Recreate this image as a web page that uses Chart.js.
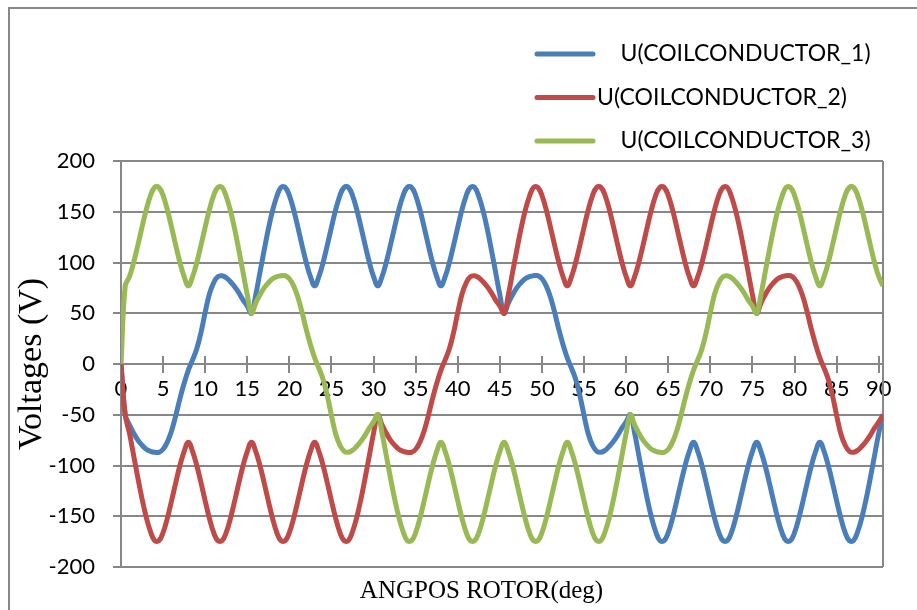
<!DOCTYPE html>
<html>
<head>
<meta charset="utf-8">
<title>Coil conductor voltages</title>
<script src="https://cdn.jsdelivr.net/npm/chart.js@4.4.1/dist/chart.umd.min.js"></script>
<style>
  html, body { margin: 0; padding: 0; background: #ffffff; }
  #wrap { position: relative; width: 917px; height: 610px; overflow: hidden; }
  #frame { position: absolute; left: 8px; top: 7px; width: 1000px; height: 700px;
           border-left: 2px solid #878787; border-top: 2px solid #878787; }
  #chart { position: absolute; left: 0; top: 0; }
</style>
</head>
<body>
<div id="wrap">
  <div id="frame"></div>
  <canvas id="chart" width="917" height="610"></canvas>
</div>
<script>
// Rotor angle (deg) of each sample
const angleDeg = [
  0,0.5,1,1.5,2,2.5,3,3.5,4,4.5,5,5.5,6,6.5,7,7.5,8,8.5,9,9.5,
  10,10.5,11,11.5,12,12.5,13,13.5,14,14.5,15,15.5,16,16.5,17,17.5,18,18.5,19,19.5,
  20,20.5,21,21.5,22,22.5,23,23.5,24,24.5,25,25.5,26,26.5,27,27.5,28,28.5,29,29.5,
  30,30.5,31,31.5,32,32.5,33,33.5,34,34.5,35,35.5,36,36.5,37,37.5,38,38.5,39,39.5,
  40,40.5,41,41.5,42,42.5,43,43.5,44,44.5,45,45.5,46,46.5,47,47.5,48,48.5,49,49.5,
  50,50.5,51,51.5,52,52.5,53,53.5,54,54.5,55,55.5,56,56.5,57,57.5,58,58.5,59,59.5,
  60,60.5,61,61.5,62,62.5,63,63.5,64,64.5,65,65.5,66,66.5,67,67.5,68,68.5,69,69.5,
  70,70.5,71,71.5,72,72.5,73,73.5,74,74.5,75,75.5,76,76.5,77,77.5,78,78.5,79,79.5,
  80,80.5,81,81.5,82,82.5,83,83.5,84,84.5,85,85.5,86,86.5,87,87.5,88,88.5,89,89.5,
  90,90.5
];

// U(COILCONDUCTOR_1) in volts
const coil1 = [
  0,-50,-60,-68,-75,-80,-84,-86,-87,-87,-84,-77,-66,-51,-34,-19,-6,4,15,31,
  51,69,80,86,87,85,81,76,70,63,57,50,68,90,112,133,151,165,174,174,
  166,152,135,117,100,86,77,86,100,117,135,152,166,174,174,166,152,135,117,100,
  86,77,86,100,117,135,152,166,174,174,166,152,135,117,100,86,77,86,100,117,
  135,152,166,174,174,165,151,133,112,90,68,50,60,68,75,80,84,86,87,87,
  84,77,66,51,34,19,6,-4,-15,-31,-51,-69,-80,-86,-87,-85,-81,-76,-70,-63,
  -57,-50,-68,-90,-112,-133,-151,-165,-174,-174,-166,-152,-135,-117,-100,-86,-77,-86,-100,-117,
  -135,-152,-166,-174,-174,-166,-152,-135,-117,-100,-86,-77,-86,-100,-117,-135,-152,-166,-174,-174,
  -166,-152,-135,-117,-100,-86,-77,-86,-100,-117,-135,-152,-166,-174,-174,-165,-151,-133,-112,-90,
  -68,-50
];

// U(COILCONDUCTOR_2) in volts
const coil2 = [
  0,-50,-68,-90,-112,-133,-151,-165,-174,-174,-166,-152,-135,-117,-100,-86,-77,-86,-100,-117,
  -135,-152,-166,-174,-174,-166,-152,-135,-117,-100,-86,-77,-86,-100,-117,-135,-152,-166,-174,-174,
  -166,-152,-135,-117,-100,-86,-77,-86,-100,-117,-135,-152,-166,-174,-174,-165,-151,-133,-112,-90,
  -68,-50,-60,-68,-75,-80,-84,-86,-87,-87,-84,-77,-66,-51,-34,-19,-6,4,15,31,
  51,69,80,86,87,85,81,76,70,63,57,50,68,90,112,133,151,165,174,174,
  166,152,135,117,100,86,77,86,100,117,135,152,166,174,174,166,152,135,117,100,
  86,77,86,100,117,135,152,166,174,174,166,152,135,117,100,86,77,86,100,117,
  135,152,166,174,174,165,151,133,112,90,68,50,60,68,75,80,84,86,87,87,
  84,77,66,51,34,19,6,-4,-15,-31,-51,-69,-80,-86,-87,-85,-81,-76,-70,-63,
  -57,-50
];

// U(COILCONDUCTOR_3) in volts
const coil3 = [
  0,77,86,100,117,135,152,166,174,174,166,152,135,117,100,86,77,86,100,117,
  135,152,166,174,174,165,151,133,112,90,68,50,60,68,75,80,84,86,87,87,
  84,77,66,51,34,19,6,-4,-15,-31,-51,-69,-80,-86,-87,-85,-81,-76,-70,-63,
  -57,-50,-68,-90,-112,-133,-151,-165,-174,-174,-166,-152,-135,-117,-100,-86,-77,-86,-100,-117,
  -135,-152,-166,-174,-174,-166,-152,-135,-117,-100,-86,-77,-86,-100,-117,-135,-152,-166,-174,-174,
  -166,-152,-135,-117,-100,-86,-77,-86,-100,-117,-135,-152,-166,-174,-174,-165,-151,-133,-112,-90,
  -68,-50,-60,-68,-75,-80,-84,-86,-87,-87,-84,-77,-66,-51,-34,-19,-6,4,15,31,
  51,69,80,86,87,85,81,76,70,63,57,50,68,90,112,133,151,165,174,174,
  166,152,135,117,100,86,77,86,100,117,135,152,166,174,174,166,152,135,117,100,
  86,77
];

const seriesNames = ['    U(COILCONDUCTOR_1)', 'U(COILCONDUCTOR_2)', '    U(COILCONDUCTOR_3)'];
const seriesColors = ['#4A7EBB', '#BE4B48', '#98B954'];
const xTickValues = [0,5,10,15,20,25,30,35,40,45,50,55,60,65,70,75,80,85,90];
const yTickValues = [-200,-150,-100,-50,0,50,100,150,200];
const xAxisTitle = 'ANGPOS ROTOR(deg)';
const yAxisTitle = 'Voltages (V)';

const axisGray = '#878787';

function toPoints(values) {
  return values.map((v, i) => ({ x: angleDeg[i], y: v }));
}

// Plot-area frame on the right plus the upper half of the crossing x-axis ticks
const axisDecor = {
  id: 'axisDecor',
  beforeDatasetsDraw(chart) {
    const { ctx, chartArea, scales } = chart;
    const y0 = scales.y.getPixelForValue(0);
    ctx.save();
    ctx.strokeStyle = axisGray;
    ctx.lineWidth = 2;
    ctx.beginPath();
    ctx.moveTo(chartArea.right, chartArea.top);
    ctx.lineTo(chartArea.right, chartArea.bottom);
    scales.x.ticks.forEach(t => {
      const px = Math.round(scales.x.getPixelForValue(t.value));
      ctx.moveTo(px, y0 - 8);
      ctx.lineTo(px, y0);
    });
    ctx.stroke();
    ctx.restore();
  }
};

// Horizontal axis title below the plot
const bottomTitle = {
  id: 'bottomTitle',
  afterDraw(chart, args, opts) {
    const { ctx } = chart;
    ctx.save();
    ctx.font = opts.font;
    ctx.fillStyle = '#000000';
    ctx.textAlign = 'center';
    ctx.textBaseline = 'middle';
    ctx.fillText(opts.text, opts.x, opts.y);
    ctx.restore();
  }
};

// Stacked legend rows above the plot
const stackedLegend = {
  id: 'stackedLegend',
  afterDraw(chart, args, opts) {
    const { ctx } = chart;
    ctx.save();
    ctx.font = opts.font;
    ctx.textBaseline = 'middle';
    ctx.textAlign = 'left';
    chart.data.datasets.forEach((ds, i) => {
      const y = opts.top + i * opts.rowGap;
      ctx.strokeStyle = ds.borderColor;
      ctx.lineWidth = ds.borderWidth;
      ctx.lineCap = 'round';
      ctx.beginPath();
      ctx.moveTo(opts.left, y);
      ctx.lineTo(opts.left + opts.lineLength, y);
      ctx.stroke();
      ctx.fillStyle = '#000000';
      ctx.fillText(ds.label, opts.left + opts.lineLength + opts.textGap, y);
    });
    ctx.restore();
  }
};

const datasets = [coil1, coil2, coil3].map((vals, i) => ({
  label: seriesNames[i],
  data: toPoints(vals),
  borderColor: seriesColors[i],
  backgroundColor: seriesColors[i],
  borderWidth: 5,
  pointRadius: 0,
  tension: 0.4,
  fill: false,
  order: 3 - i
}));

new Chart(document.getElementById('chart'), {
  type: 'line',
  data: { datasets },
  plugins: [axisDecor, bottomTitle, stackedLegend],
  options: {
    responsive: false,
    animation: false,
    devicePixelRatio: 1,
    layout: { padding: { left: 0, right: 34, top: 161, bottom: 43 } },
    plugins: {
      legend: { display: false },
      tooltip: { enabled: false },
      bottomTitle: { text: xAxisTitle, x: 481.5, y: 591, font: '25px "Liberation Serif"' },
      stackedLegend: {
        left: 537, top: 54, rowGap: 43.5, lineLength: 56, textGap: 4,
        font: '23px Lato'
      }
    },
    scales: {
      x: {
        type: 'linear',
        position: { y: 0 },
        min: 0,
        max: 90.5,
        afterBuildTicks: s => { s.ticks = xTickValues.map(v => ({ value: v })); },
        grid: { display: true, drawOnChartArea: false, drawTicks: true, tickLength: 8, color: axisGray, lineWidth: 2 },
        border: { display: true, color: axisGray, width: 2 },
        ticks: { color: '#000000', font: { family: 'Lato', size: 22 }, padding: 4, maxRotation: 0, autoSkip: false }
      },
      y: {
        type: 'linear',
        min: -200,
        max: 200,
        afterBuildTicks: s => { s.ticks = yTickValues.map(v => ({ value: v })); },
        afterFit: s => { s.width = 121; },
        grid: { color: axisGray, lineWidth: 2, drawTicks: true, tickLength: 8 },
        border: { display: true, color: axisGray, width: 2 },
        ticks: { color: '#000000', font: { family: 'Lato', size: 22 }, padding: 18 },
        title: {
          display: true,
          text: yAxisTitle,
          color: '#000000',
          font: { family: 'Liberation Serif', size: 34 },
          padding: { top: 12, bottom: 0 }
        }
      }
    }
  }
});
</script>
</body>
</html>
